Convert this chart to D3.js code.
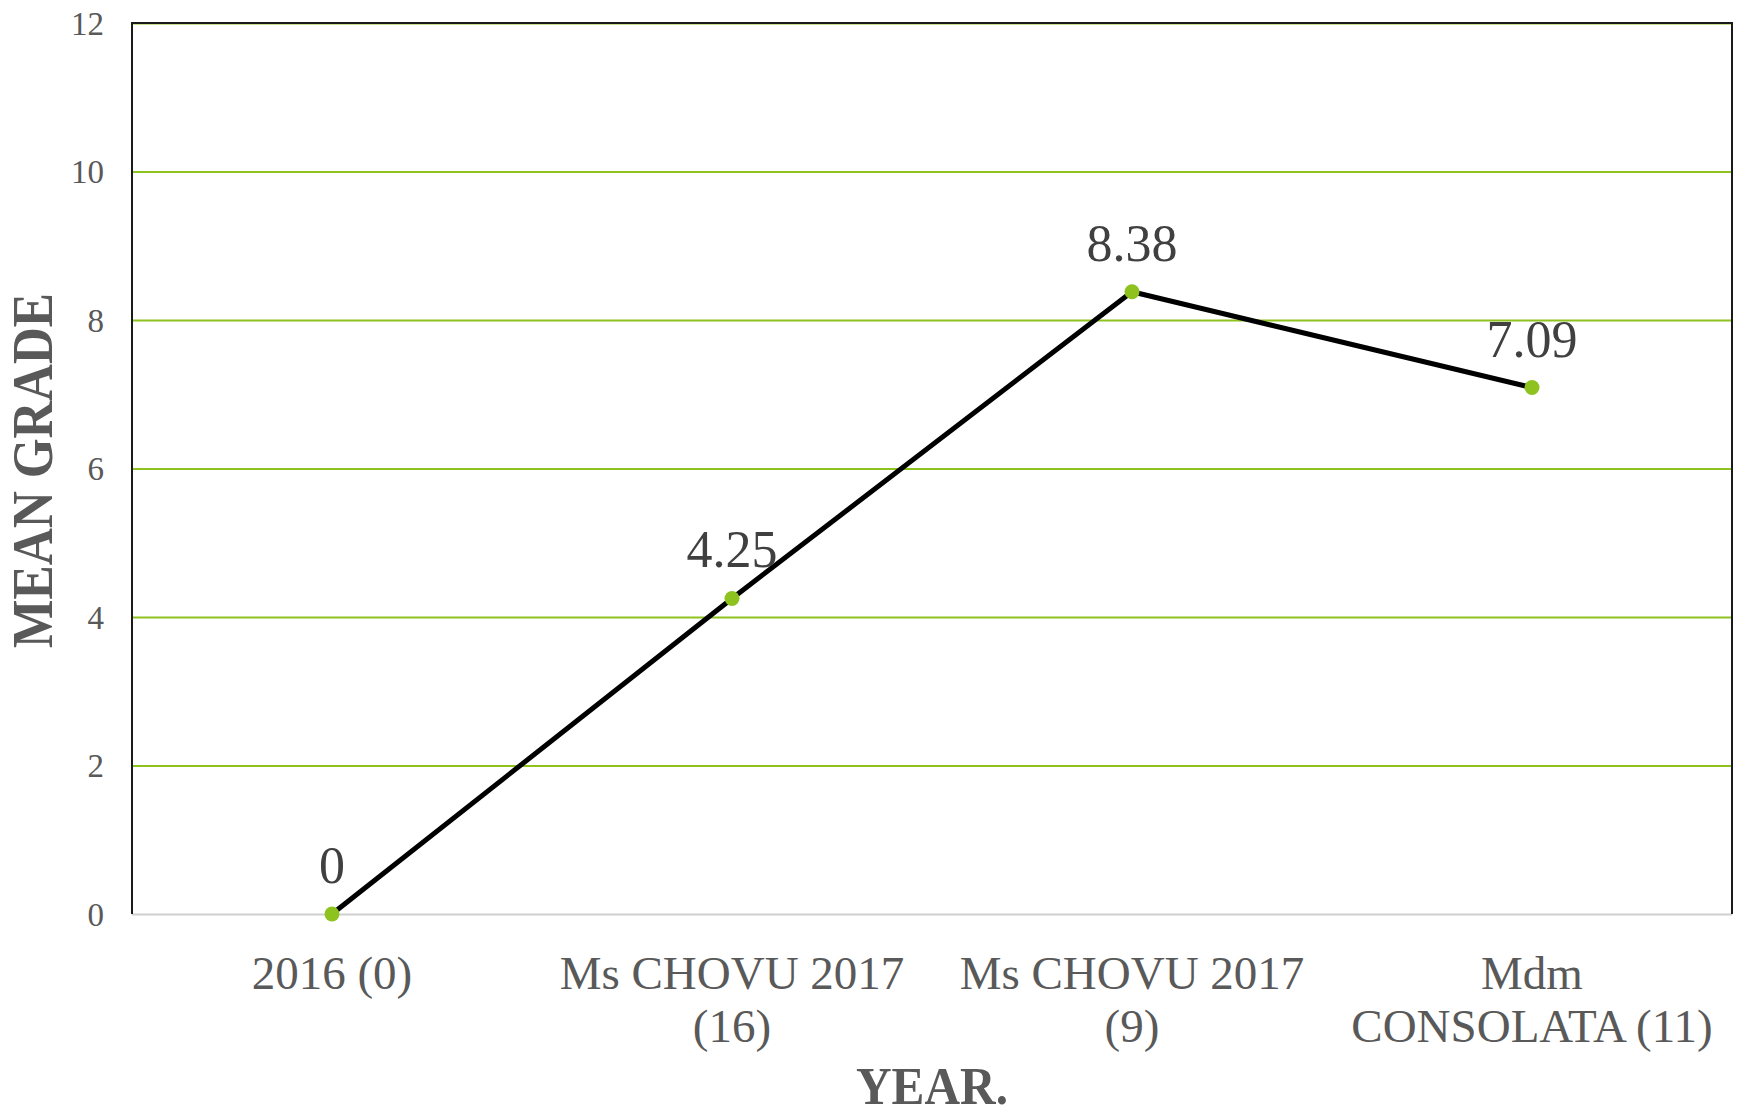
<!DOCTYPE html>
<html>
<head>
<meta charset="utf-8">
<script src="https://cdn.jsdelivr.net/npm/d3@7"></script>
<style>
  html, body { margin: 0; padding: 0; background: #fff; }
  svg { display: block; }
  svg text { font-family: "Liberation Serif", "Times New Roman", serif !important; }
</style>
</head>
<body>
<svg id="chart" width="1748" height="1116"></svg>
<script>
const categories = [
  ["2016 (0)"],
  ["Ms CHOVU 2017", "(16)"],
  ["Ms CHOVU 2017", "(9)"],
  ["Mdm", "CONSOLATA (11)"]
];
const categoryKeys = ["2016 (0)", "Ms CHOVU 2017 (16)", "Ms CHOVU 2017 (9)", "Mdm CONSOLATA (11)"];
const values = [0, 4.25, 8.38, 7.09];
const valueLabels = ["0", "4.25", "8.38", "7.09"];
const yTicks = [0, 2, 4, 6, 8, 10, 12];
const xTitle = "YEAR.";
const yTitle = "MEAN GRADE";

const svg = d3.select("#chart");
const m = { left: 132, right: 1732, top: 23, bottom: 914 };

const x = d3.scaleBand().domain(categoryKeys).range([m.left, m.right]).padding(0);
const y = d3.scaleLinear().domain([0, 12]).range([m.bottom, m.top]);

const green = "#8DC21F";
const grey = "#595959";

// gridlines + y tick labels
const yAxis = d3.axisLeft(y).tickValues(yTicks).tickSize(-(m.right - m.left)).tickFormat(d => d);
const gy = svg.append("g").attr("transform", `translate(${m.left},0)`).call(yAxis)
  .attr("font-family", "Liberation Serif")
  .attr("font-size", 33);
gy.select(".domain").remove();
gy.selectAll(".tick line")
  .attr("stroke", d => d === 0 ? "#d0d0d0" : green)
  .attr("stroke-width", 2);
gy.selectAll(".tick text")
  .attr("x", -28)
  .attr("dy", "0.34em")
  .attr("fill", grey)
  .style("font-size", "33px");

// border: left, top, right
svg.append("path")
  .attr("d", `M${m.left},${m.bottom} V${m.top} H${m.right} V${m.bottom}`)
  .attr("fill", "none")
  .attr("stroke", "#1a1a1a")
  .attr("stroke-width", 2);

// x axis labels
const xg = svg.append("g");
categories.forEach((lines, i) => {
  const t = xg.append("text")
    .attr("x", x(categoryKeys[i]) + x.bandwidth() / 2)
    .attr("y", 989)
    .attr("text-anchor", "middle")
    .attr("fill", grey)
    .style("font-size", "47px");
  lines.forEach((ln, j) => {
    t.append("tspan")
      .attr("x", x(categoryKeys[i]) + x.bandwidth() / 2)
      .attr("dy", j === 0 ? 0 : 53)
      .text(ln);
  });
});

// line
const cx = (d, i) => x(categoryKeys[i]) + x.bandwidth() / 2;
const line = d3.line().x((d, i) => cx(d, i)).y(d => y(d));
svg.append("path")
  .datum(values)
  .attr("d", line)
  .attr("fill", "none")
  .attr("stroke", "#000")
  .attr("stroke-width", 5)
  .attr("stroke-linejoin", "round");

// points
svg.selectAll("circle.pt").data(values).enter().append("circle")
  .attr("class", "pt")
  .attr("cx", (d, i) => cx(d, i))
  .attr("cy", d => y(d))
  .attr("r", 7.5)
  .attr("fill", green);

// data labels
svg.selectAll("text.lbl").data(values).enter().append("text")
  .attr("class", "lbl")
  .attr("x", (d, i) => cx(d, i))
  .attr("y", d => y(d) - 31)
  .attr("text-anchor", "middle")
  .attr("fill", "#404040")
  .style("font-size", "52px")
  .text((d, i) => valueLabels[i]);

// axis titles
svg.append("text")
  .attr("x", (m.left + m.right) / 2)
  .attr("y", 1104)
  .attr("text-anchor", "middle")
  .attr("fill", grey)
  .style("font-size", "52px")
  .style("font-weight", "bold")
  .attr("textLength", 152)
  .attr("lengthAdjust", "spacingAndGlyphs")
  .text(xTitle);

svg.append("text")
  .attr("transform", `translate(52,${(m.top + m.bottom) / 2 + 2}) rotate(-90)`)
  .attr("text-anchor", "middle")
  .attr("fill", grey)
  .style("font-size", "56px")
  .style("font-weight", "bold")
  .attr("textLength", 355)
  .attr("lengthAdjust", "spacingAndGlyphs")
  .text(yTitle);
</script>
</body>
</html>
